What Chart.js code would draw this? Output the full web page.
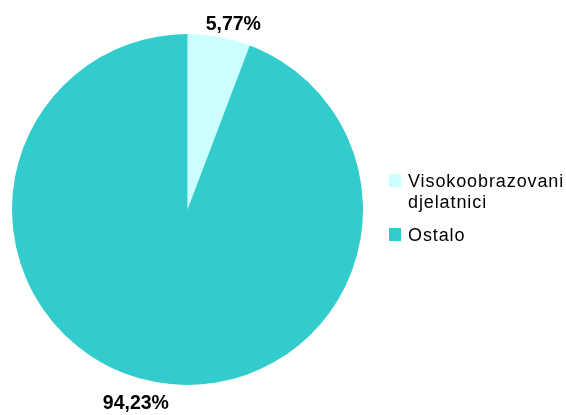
<!DOCTYPE html>
<html>
<head>
<meta charset="utf-8">
<script src="https://cdn.jsdelivr.net/npm/chart.js@4/dist/chart.umd.min.js"></script>
<style>
  html, body { margin: 0; padding: 0; background: #fff; }
  #wrap { width: 566px; height: 415px; }
</style>
</head>
<body>
<div id="wrap"><canvas id="pieChart" width="566" height="415"></canvas></div>
<script>
// podaci
var kategorije = ['Visokoobrazovani djelatnici', 'Ostalo'];
var legendaRedovi = [['Visokoobrazovani', 'djelatnici'], ['Ostalo']];
var postoci = [5.77, 94.23];
var boje = ['#CCFFFF', '#33CCCC'];

// oznake postotaka izvan kruga
var oznakePlugin = {
  id: 'oznake',
  afterDatasetsDraw: function (chart, args, opts) {
    var ctx = chart.ctx;
    var meta = chart.getDatasetMeta(0);
    ctx.save();
    ctx.font = 'bold 19.5px "Liberation Sans", Arial, sans-serif';
    ctx.fillStyle = '#000';
    ctx.textAlign = 'center';
    ctx.textBaseline = 'middle';
    meta.data.forEach(function (arc, i) {
      var p = arc.getProps(['x', 'y', 'startAngle', 'endAngle', 'outerRadius'], true);
      var mid = (p.startAngle + p.endAngle) / 2;
      var d = p.outerRadius + opts.razmak[i];
      var x = p.x + Math.cos(mid) * d + opts.pomak[i];
      var y = p.y + Math.sin(mid) * d;
      var txt = postoci[i].toFixed(2).replace('.', ',') + '%';
      ctx.fillText(txt, x, y);
    });
    ctx.restore();
  }
};

// legenda desno
var legendaPlugin = {
  id: 'legenda',
  afterDraw: function (chart, args, opts) {
    var ctx = chart.ctx;
    ctx.save();
    ctx.font = '18px "Liberation Sans", Arial, sans-serif';
    ctx.letterSpacing = '0.9px';
    ctx.textBaseline = 'alphabetic';
    ctx.textAlign = 'left';
    var y = opts.y;
    legendaRedovi.forEach(function (redovi, i) {
      ctx.fillStyle = boje[i];
      ctx.fillRect(opts.x, y - 13, 12, 13);
      ctx.fillStyle = '#000';
      redovi.forEach(function (r, j) {
        ctx.fillText(r, opts.x + 19, y + j * 21);
      });
      y += redovi.length * 21 + 12;
    });
    ctx.restore();
  }
};

new Chart(document.getElementById('pieChart'), {
  type: 'pie',
  data: {
    labels: kategorije,
    datasets: [{
      data: postoci,
      backgroundColor: boje,
      borderWidth: 0
    }]
  },
  options: {
    responsive: false,
    animation: false,
    layout: { padding: { left: 12, top: 34, right: 203, bottom: 30 } },
    plugins: {
      legend: { display: false },
      tooltip: { enabled: false },
      oznake: { razmak: [12, 22], pomak: [12, -16] },
      legenda: { x: 389, y: 187 }
    }
  },
  plugins: [oznakePlugin, legendaPlugin]
});
</script>
</body>
</html>
